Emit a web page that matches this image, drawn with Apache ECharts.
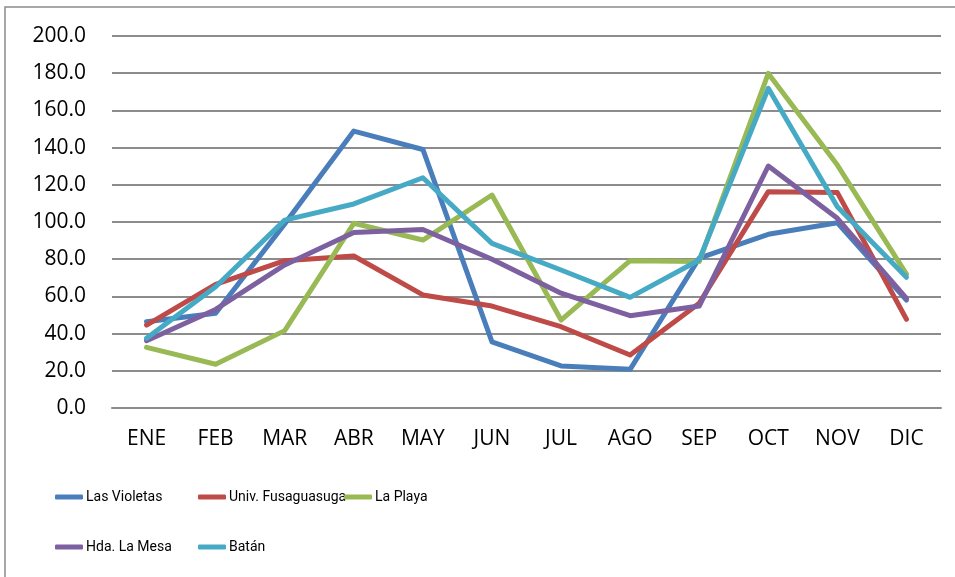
<!DOCTYPE html>
<html>
<head>
<meta charset="utf-8">
<style>
  html, body { margin: 0; padding: 0; background: #fff; }
  #chart { width: 955px; height: 577px; }
</style>
<script src="https://cdn.jsdelivr.net/npm/echarts@6/dist/echarts.min.js"></script>
</head>
<body>
<div id="chart"></div>
<script>
// meses (eje x)
const meses = ['ENE', 'FEB', 'MAR', 'ABR', 'MAY', 'JUN', 'JUL', 'AGO', 'SEP', 'OCT', 'NOV', 'DIC']

// valores
const lasVioletas = [46.4, 50.9, 99.0, 148.9, 139.0, 35.6, 22.6, 20.8, 80.6, 93.4, 99.6, 58.0]
const univFusa = [44.6, 66.5, 79.2, 81.7, 60.8, 54.8, 43.7, 28.5, 56.3, 116.3, 115.8, 47.7]
const laPlaya = [32.6, 23.5, 41.6, 99.3, 90.3, 114.5, 47.3, 79.2, 78.7, 179.9, 130.6, 72.0]
const hdaLaMesa = [36.2, 53.0, 76.9, 94.4, 96.0, 80.0, 61.7, 49.6, 54.8, 130.1, 102.0, 59.0]
const batan = [37.5, 65.2, 101.0, 109.7, 123.8, 88.5, 74.2, 59.5, 79.6, 171.9, 108.2, 70.3]

const nombres = ['Las Violetas', 'Univ. Fusaguasuga', 'La Playa', 'Hda. La Mesa', 'Batán']
const colores = ['#4A7EBB', '#BE4B48', '#98B954', '#7D60A0', '#46AAC5']

const chart = echarts.init(document.getElementById('chart'))

const fuente = 'Open Sans, Liberation Sans, sans-serif'
const fuenteLeyenda = 'Roboto, Liberation Sans, sans-serif'

// posicion de cada elemento de la leyenda (como en Excel)
const posLeyenda = [
  { left: 55, top: 490 },
  { left: 198, top: 490 },
  { left: 344, top: 490 },
  { left: 55, top: 540 },
  { left: 198, top: 540 }
]

const leyendas = nombres.map((n, i) => ({
  data: [n],
  left: posLeyenda[i].left,
  top: posLeyenda[i].top,
  padding: 0,
  itemGap: 0,
  itemWidth: 28,
  itemHeight: 5,
  icon: 'roundRect',
  textStyle: { fontFamily: fuenteLeyenda, fontSize: 14, color: '#000', padding: [0, 0, 0, -2] }
}))

const series = [lasVioletas, univFusa, laPlaya, hdaLaMesa, batan].map((d, i) => ({
  name: nombres[i],
  type: 'line',
  data: d,
  symbol: 'none',
  lineStyle: { width: 5, color: colores[i], cap: 'round', join: 'round' },
  itemStyle: { color: colores[i] }
}))

const option = {
  animation: false,
  color: colores,
  graphic: [{
    type: 'rect',
    shape: { x: 5, y: 7, width: 1000, height: 620 },
    style: { fill: 'none', stroke: '#8c8c8c', lineWidth: 1.5 },
    silent: true
  }],
  legend: leyendas,
  grid: { left: 112, right: 14, top: 36, bottom: 169, containLabel: false },
  xAxis: {
    type: 'category',
    data: meses,
    boundaryGap: true,
    axisLine: { show: true, lineStyle: { color: '#8c8c8c', width: 2 } },
    axisTick: { show: false },
    axisLabel: { fontFamily: fuente, fontSize: 21, color: '#000', margin: 21 }
  },
  yAxis: {
    type: 'value',
    min: 0,
    max: 200,
    interval: 20,
    axisLine: { show: false },
    axisTick: { show: false },
    splitLine: { lineStyle: { color: '#8c8c8c', width: 2 } },
    axisLabel: { fontFamily: fuente, fontSize: 21, color: '#000', margin: 26, formatter: (v) => v.toFixed(1) }
  },
  series: series
}

chart.setOption(option)
</script>
</body>
</html>
